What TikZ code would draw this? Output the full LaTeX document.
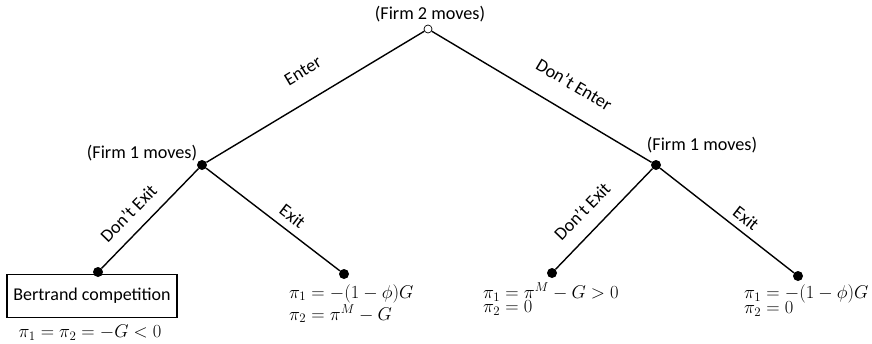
\RequirePackage{fix-cm}
\documentclass[tikz,border=0pt]{standalone}
\usepackage{amsmath,amssymb}
\usepackage{fontspec}
\setmainfont{Carlito}
\usepackage{tikz}
\usetikzlibrary{positioning,calc}
\tikzset{
  move/.style={circle, fill=black, inner sep=0pt, minimum size=10pt},
  chance/.style={circle, draw=black, fill=white, inner sep=0pt, minimum size=8pt, line width=0.7pt},
  branch/.style={line width=1.4pt, draw=black},
  act/.style={font=\fontsize{18.2}{21}\selectfont, sloped, inner sep=0pt},
  who/.style={font=\fontsize{18.2}{21}\selectfont, inner sep=0pt},
  pay/.style={font=\fontsize{18.5}{21}\selectfont, inner sep=0pt, align=left, anchor=west},
  outcome/.style={rectangle, draw=black, line width=1.2pt, minimum width=170pt,
                  minimum height=43pt, font=\fontsize{18}{21}\selectfont},
}

\begin{document}
\begin{tikzpicture}[x=1pt, y=-1pt]
  \useasboundingbox (0,0) rectangle (872,343);
  % decision nodes
  \node[chance] (root) at (428,29) {};
  \node[move] (f1a) at (202,165) {};
  \node[move] (f1b) at (656,165) {};
  % terminal nodes
  \node[move] (t1) at (98,272) {};
  \node[move] (t2) at (344,274) {};
  \node[move] (t3) at (552,273) {};
  \node[move] (t4) at (798,276) {};
  % who moves
  \node[who] (w2) at (430,14) {(Firm 2 moves)};
  \node[who] (w1a) at (142,153) {(Firm 1 moves)};
  \node[who] (w1b) at (702,145) {(Firm 1 moves)};
  % branches
  \draw[branch] (f1a) -- node[act, above=22pt, pos=0.51] {Enter} (root);
  \draw[branch] (root) -- node[act, above=20pt, pos=0.585] {Don’t Enter} (f1b);
  \draw[branch] (t1) -- node[act, above=12pt, pos=0.42] {Don’t Exit} (f1a);
  \draw[branch] (f1a) -- node[act, above=7.5pt, pos=0.58] {Exit} (t2);
  \draw[branch] (t3) -- node[act, above=13.8pt, pos=0.43] {Don’t Exit} (f1b);
  \draw[branch] (f1b) -- node[act, above=6.5pt, pos=0.58] {Exit} (t4);
  % payoffs
  \node[outcome] (bert) at (92,296) {Bertrand competition};
  \node[pay, anchor=center] (p1) at (90,333) {$\pi_1=\pi_2=-G<0$};
  \node[pay] (p2) at (289,303.5) {$\pi_1=-(1-\phi)G$\\[1pt] $\pi_2=\pi^M-G$};
  \node[pay] (p3) at (483,299) {$\pi_1=\pi^M-G>0$\\[-7pt] $\pi_2=0$};
  \node[pay] (p4) at (744,300.5) {$\pi_1=-(1-\phi)G$\\[-6pt] $\pi_2=0$};
\end{tikzpicture}
\end{document}
